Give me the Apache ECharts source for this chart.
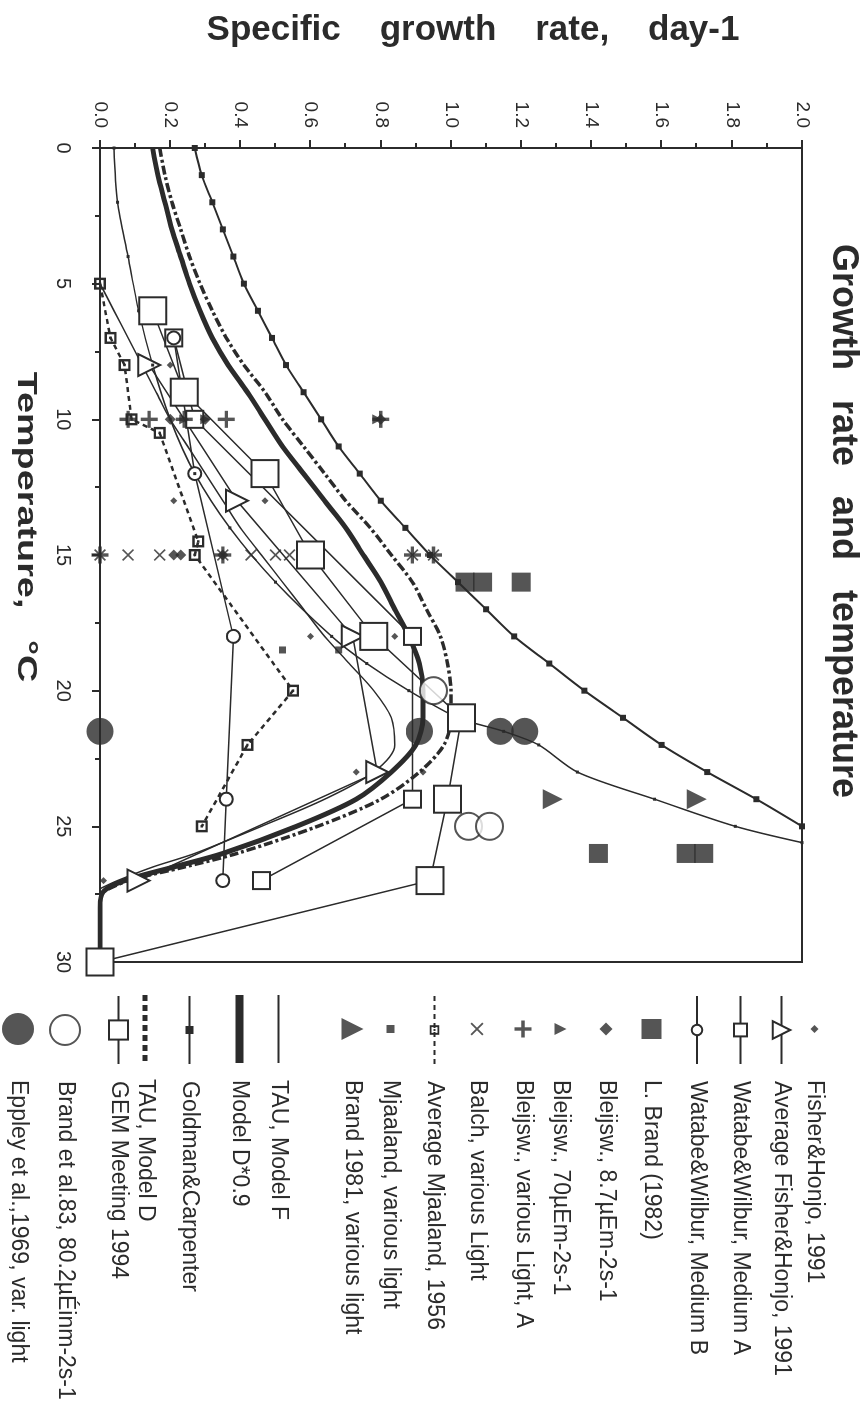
<!DOCTYPE html>
<html><head><meta charset="utf-8">
<script src="https://cdn.jsdelivr.net/npm/echarts@6/dist/echarts.min.js"></script>
<style>
html,body{margin:0;padding:0;background:#fff;width:866px;height:1426px;overflow:hidden}
#chart{position:absolute;left:0;top:0;width:1426px;height:866px;transform-origin:0 0;transform:translate(866px,0) rotate(90deg);}
</style></head><body><div id="chart"></div>
<script>
// ---- data: [temperature °C, specific growth rate day-1] ----
const fisherHonjo = [[8,0.20],[13,0.21],[13,0.47],[18,0.60],[18,0.84],[23,0.73],[23,0.92],[27,0.01]];
const avgFisherHonjo = [[8,0.14],[13,0.39],[18,0.72],[23,0.79],[27,0.11]];
const watabeA = [[7,0.21],[10,0.27],[18,0.89],[24,0.89],[27,0.46]];
const watabeB = [[7,0.21],[12,0.27],[18,0.38],[24,0.36],[27,0.35]];
const lBrand = [[16,1.04],[16,1.09],[16,1.20],[26,1.42],[26,1.67],[26,1.72]];
const bleijsw87 = [[10,0.20],[10,0.30],[10,0.80],[15,0.21],[15,0.23],[15,0.35]];
const bleijsw70 = [[10,0.24],[10,0.30],[10,0.79]];
const bleijswA = [[10,0.08],[10,0.14],[10,0.24],[10,0.36],[10,0.80],[15,0.0],[15,0.35],[15,0.89],[15,0.95]];
const balch = [[15,0.0],[15,0.08],[15,0.17],[15,0.35],[15,0.43],[15,0.50],[15,0.54],[15,0.89],[15,0.95]];
const avgMjaaland = [[5,0],[7,0.03],[8,0.07],[10,0.09],[10.5,0.17],[14.5,0.28],[15,0.27],[20,0.55],[22,0.42],[25,0.29]];
const mjaaland = [[18.5,0.52],[18.5,0.68]];
const brand1981 = [[24,1.29],[24,1.70]];
const tauModelF = [[5,0],[6,0.04],[7,0.08],[8,0.12],[9,0.16],[10,0.20],[11,0.25],[12,0.30],[13,0.35],[14,0.40],[15,0.46],[16,0.52],[17,0.58],[18,0.64],[19,0.71],[20,0.78],[21,0.83],[22,0.84],[23,0.78],[24,0.64],[25,0.46],[26,0.27],[26.5,0.15],[27,0.05],[27.3,0]];
const modelD09 = [[0,0.15],[1,0.165],[2,0.185],[3,0.205],[4,0.23],[5,0.255],[6,0.285],[7,0.32],[8,0.365],[9,0.42],[10,0.47],[11,0.52],[12,0.58],[13,0.64],[14,0.70],[15,0.75],[16,0.80],[17,0.84],[18,0.88],[19,0.91],[20,0.92],[21,0.92],[22,0.90],[23,0.83],[24,0.73],[25,0.56],[26,0.35],[26.5,0.21],[27,0.07],[27.4,0.01],[28,0],[30,0]];
const goldmanUpper = [[0,0.27],[1,0.29],[2,0.32],[3,0.35],[4,0.38],[5,0.41],[6,0.45],[7,0.49],[8,0.53],[9,0.58],[10,0.63],[11,0.68],[12,0.74],[13,0.80],[14,0.87],[15,0.94],[16,1.02],[17,1.10],[18,1.18],[19,1.28],[20,1.38],[21,1.49],[22,1.60],[23,1.73],[24,1.87],[25,2.0]];
const goldmanLower = [[0,0.04],[2,0.05],[4,0.08],[6,0.11],[8,0.15],[10,0.20],[12,0.27],[14,0.37],[16,0.50],[18,0.66],[19,0.76],[20,0.88],[21,1.02],[21.5,1.15],[22,1.25],[23,1.36],[24,1.58],[25,1.81],[25.6,2.0]];
const tauModelD = [[0,0.17],[1,0.185],[2,0.205],[3,0.23],[4,0.255],[5,0.285],[6,0.32],[7,0.36],[8,0.41],[9,0.47],[10,0.52],[11,0.58],[12,0.64],[13,0.70],[14,0.77],[15,0.83],[16,0.89],[17,0.93],[18,0.97],[19,0.99],[20,1.0],[21,1.0],[22,0.98],[23,0.91],[24,0.80],[25,0.62],[26,0.39],[26.5,0.24],[27,0.08],[27.4,0.01]];
const gem1994 = [[6,0.15],[9,0.24],[12,0.47],[15,0.60],[18,0.78],[21,1.03],[24,0.99],[27,0.94],[30,0]];
const brand83 = [[20,0.95],[25,1.05],[25,1.11]];
const eppley = [[21.5,0],[21.5,0.91],[21.5,1.14],[21.5,1.21]];

const seriesNames = ['Fisher&Honjo, 1991','Average Fisher&Honjo, 1991','Watabe&Wilbur, Medium A','Watabe&Wilbur, Medium B','L. Brand (1982)','Bleijsw., 8.7\u00b5Em-2s-1','Bleijsw., 70\u00b5Em-2s-1','Bleijsw., various Light, A','Balch, various Light','Average Mjaaland, 1956','Mjaaland, various light','Brand 1981, various light','TAU, Model F','Model D*0.9','Goldman&Carpenter','TAU, Model D','GEM Meeting 1994','Brand et al.83, 80.2\u00b5\u00c9inm-2s-1','Eppley et al.,1969, var. light'];
const titleText = 'Growth   rate   and   temperature';
const yTitle = 'Specific    growth    rate,    day-1';
const xTitle = 'Temperature,   \u00b0C';

const INK = '#2b2b2b';
const FONT = 'Liberation Sans, Arial, sans-serif';
const PLUS = 'path://M4,0H6V4H10V6H6V10H4V6H0V4H4Z';
const CROSS = 'path://M1,0L5,4L9,0L10,1L6,5L10,9L9,10L5,6L1,10L0,9L4,5L0,1Z';
const DOTSQ = 'path://M0,0H10V10H0Z M2,2V8H8V2Z M4,4H6V6H4Z';
const BAR_THIN = 'path://M0,0H68V2H0Z';
const BAR_THICK = 'path://M0,0H68V8H0Z';
const DOTBAR = 'path://M0,0H6V5H0Z M10,0H16V5H10Z M20,0H26V5H20Z M30,0H36V5H30Z M40,0H46V5H40Z M50,0H56V5H50Z M60,0H66V5H60Z';
const open = {color:'#fff', borderColor:INK, borderWidth:2};
const solid = {color:INK};

function sc(name, data, symbol, size, style){
  return {type:'scatter', name, data, symbol, symbolSize:size, itemStyle:style, z:5};
}
function ln(name, data, opt){
  return Object.assign({type:'line', name, data, showSymbol:true, itemStyle:solid, lineStyle:{color:INK, width:1.5}, z:4}, opt);
}

const series = [
  sc(seriesNames[0], fisherHonjo, 'diamond', 7, solid),
  ln(seriesNames[1], avgFisherHonjo, {symbol:'triangle', symbolSize:22, itemStyle:open}),
  ln(seriesNames[2], watabeA, {symbol:'rect', symbolSize:17, itemStyle:open}),
  ln(seriesNames[3], watabeB, {symbol:'circle', symbolSize:13, itemStyle:open}),
  sc(seriesNames[4], lBrand, 'rect', 19, solid),
  sc(seriesNames[5], bleijsw87, 'diamond', 11, solid),
  sc(seriesNames[6], bleijsw70, 'triangle', 10, solid),
  sc(seriesNames[7], bleijswA, PLUS, 17, solid),
  sc(seriesNames[8], balch, CROSS, 12, solid),
  ln(seriesNames[9], avgMjaaland, {symbol:DOTSQ, symbolSize:12, lineStyle:{color:INK, width:2.5, type:[5,4]}}),
  sc(seriesNames[10], mjaaland, 'rect', 7, solid),
  sc(seriesNames[11], brand1981, 'triangle', 20, solid),
  ln(seriesNames[12], tauModelF, {smooth:0.3, showSymbol:false, symbol:'none'}),
  ln(seriesNames[13], modelD09, {smooth:0.3, showSymbol:false, symbol:'none', lineStyle:{color:INK, width:5}}),
  ln(seriesNames[14], goldmanUpper, {smooth:0.3, symbol:'rect', symbolSize:6, lineStyle:{color:INK, width:2}}),
  ln(seriesNames[14], goldmanLower, {smooth:0.3, symbol:'rect', symbolSize:3, lineStyle:{color:INK, width:1.5}}),
  ln(seriesNames[15], tauModelD, {smooth:0.3, showSymbol:false, symbol:'none', lineStyle:{color:INK, width:3.5, type:[9,3,3,3]}}),
  ln(seriesNames[16], gem1994, {symbol:'rect', symbolSize:27, itemStyle:open}),
  sc(seriesNames[17], brand83, 'circle', 27, open),
  sc(seriesNames[18], eppley, 'circle', 27, solid)
];

// legend layout in the unrotated frame
const legendY = [44,84,122,164,213,255,300,340,384,426,468,513,577,619,670,712,748,800,848];
// 0 = line entry (full width), otherwise width of a lone symbol
const legendSym = [8,0,0,0,20,13,12,17,13,0,8,22,0,0,0,0,0,30,32];
const legendIconH = [8,22,16,13,20,13,12,17,13,12,8,22,2,8,10,5,24,30,32];
const legendIcon = [null,null,null,null,null,null,null,null,null,null,null,null,BAR_THIN,BAR_THICK,null,DOTBAR,null,null,null];
const ICON_C = 1029, LINE_L = 995, LINE_W = 68, TEXT_X = 1080;
const legends = seriesNames.map((n,i)=>{
  const s = legendSym[i];
  const left = s ? ICON_C - s/2 : LINE_L;
  const w = s ? s : LINE_W;
  const item = legendIcon[i] ? {name:n, icon:legendIcon[i]} : {name:n};
  return {
    data:[item], orient:'horizontal', left:left, top:legendY[i]-legendIconH[i]/2, padding:0,
    itemWidth:w, itemHeight:legendIconH[i], itemGap:0, selectedMode:false,
    textStyle:{fontFamily:FONT, fontSize:23, color:INK, padding:[0,0,0,TEXT_X-(left+w+5)]}
  };
});

const chart = echarts.init(document.getElementById('chart'), null, {renderer:'canvas'});
chart.setOption({
  animation:false,
  backgroundColor:'#fff',
  grid:{left:148, top:64, width:814, height:702, show:true, borderColor:INK, borderWidth:2, backgroundColor:'transparent'},
  xAxis:{type:'value', min:0, max:30, interval:5,
    axisLine:{show:true, onZero:false, lineStyle:{color:INK, width:2}},
    axisTick:{show:true, length:8, lineStyle:{color:INK, width:2}},
    minorTick:{show:true, splitNumber:2, length:5, lineStyle:{color:INK, width:2}},
    splitLine:{show:false},
    axisLabel:{color:INK, fontSize:20, fontFamily:FONT, margin:27}},
  yAxis:{type:'value', min:0, max:2, interval:0.2,
    axisLine:{show:true, onZero:false, lineStyle:{color:INK, width:2}},
    axisTick:{show:true, length:8, lineStyle:{color:INK, width:2}},
    minorTick:{show:true, splitNumber:2, length:5, lineStyle:{color:INK, width:2}},
    splitLine:{show:false},
    axisLabel:{color:INK, fontSize:19, fontFamily:FONT, margin:20, formatter:v=>v.toFixed(1)}},
  legend:legends,
  graphic:[
    {type:'text', x:521, y:23, style:{text:titleText, font:'bold 36px '+FONT, fill:INK, align:'center', verticalAlign:'middle'}},
    {type:'text', x:30, y:393, rotation:Math.PI/2, style:{text:yTitle, font:'bold 35px '+FONT, fill:INK, align:'center', verticalAlign:'middle'}},
    {type:'text', x:527, y:841, scaleX:1.4, style:{text:xTitle, font:'bold 27px '+FONT, fill:INK, align:'center', verticalAlign:'middle'}}
  ],
  series
});
</script></body></html>
